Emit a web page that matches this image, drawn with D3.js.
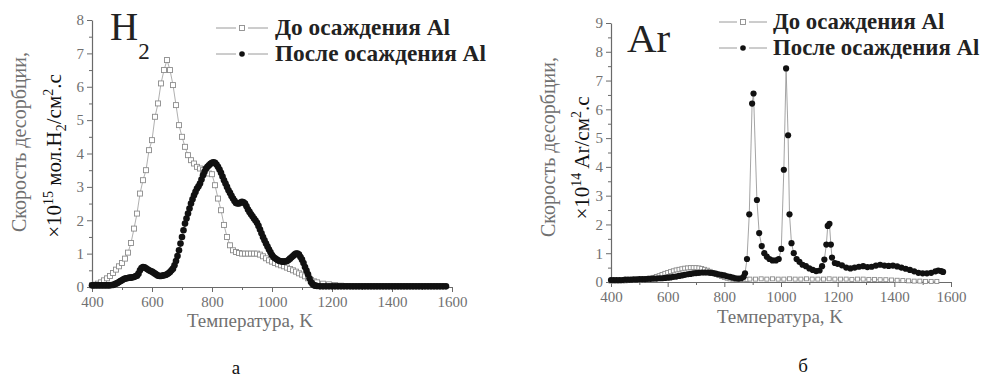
<!DOCTYPE html>
<html><head><meta charset="utf-8">
<script src="https://cdn.jsdelivr.net/npm/d3@7"></script>
<style>body{margin:0;background:#fff} svg{display:block} text{font-family:"Liberation Serif","DejaVu Serif",serif}</style>
</head><body>
<svg id="c" width="983" height="378"></svg>
<script>
// ---------- DATA ----------
const xTicks = [400, 600, 800, 1000, 1200, 1400, 1600];
const xMinorTicks = [500, 700, 900, 1100, 1300, 1500];
const h2YTicks = [0, 1, 2, 3, 4, 5, 6, 7, 8];
const h2YMinor = [0.5, 1.5, 2.5, 3.5, 4.5, 5.5, 6.5, 7.5];
const arYTicks = [0, 1, 2, 3, 4, 5, 6, 7, 8, 9];
const arYMinor = [0.5, 1.5, 2.5, 3.5, 4.5, 5.5, 6.5, 7.5, 8.5];
const legendLabels = ["До осаждения Al", "После осаждения Al"];

// H2 panel (а) — До осаждения Al
const h2TempBefore = [400,410,420,430,440,450,460,470,480,490,500,510,520,530,540,550,560,570,580,590,
  600,610,620,630,640,650,660,670,680,690,700,710,720,730,740,750,760,770,780,790,
  800,810,820,830,840,850,860,870,880,890,900,910,920,930,940,950,960,970,980,990,
  1000,1010,1020,1030,1040,1050,1060,1070,1080,1090,1100,1110,1120,1130,1140,1150,
  1170,1190,1210,1230,1250,1270,1290,1310,1330,1350,1370,1390,1410,1430,1450,1470,1490,1510,1530,1550,1570];
const h2Before = [0.05,0.07,0.1,0.14,0.2,0.26,0.33,0.42,0.52,0.62,
  0.72,0.85,1.03,1.32,1.75,2.2,2.8,3.2,3.5,4.1,
  4.4,5.1,5.5,6.1,6.5,6.8,6.5,6.05,5.45,4.85,
  4.5,4.2,3.95,3.8,3.7,3.6,3.55,3.5,3.45,3.4,
  3.38,3.05,2.65,2.3,1.86,1.5,1.25,1.1,1.05,1.02,
  1.0,1.0,1.0,1.0,1.0,1.0,0.97,0.92,0.86,0.8,
  0.76,0.72,0.68,0.65,0.62,0.58,0.54,0.5,0.46,0.41,
  0.37,0.32,0.26,0.21,0.17,0.14,
  0.1,0.08,0.06,0.04,0.03,0.02,0.02,0.02,0.02,0.02,0.02,0.02,0.02,0.02,0.02,0.02,0.02,0.02,0.02,0.02,0.02];

// H2 panel (а) — После осаждения Al
const h2TempAfter = [400,405,410,415,420,425,430,435,440,445,450,455,460,465,470,475,480,485,490,495,
  500,505,510,515,520,525,530,535,540,545,550,555,560,565,570,575,580,585,590,595,
  600,605,610,615,620,625,630,635,640,645,650,655,660,665,670,675,680,685,690,695,
  700,705,710,715,720,725,730,735,740,745,750,755,760,765,770,775,780,785,790,795,
  800,805,810,815,820,825,830,835,840,845,850,855,860,865,870,875,880,885,890,895,
  900,905,910,915,920,925,930,935,940,945,950,955,960,965,970,975,980,985,990,995,
  1000,1005,1010,1015,1020,1025,1030,1035,1040,1045,1050,1055,1060,1065,1070,1075,1080,1085,1090,1095,
  1100,1105,1110,1115,1120,1125,1130,1135,1140,1145,1150,
  1160,1170,1180,1190,1200,1210,1220,1230,1240,1250,1260,1270,1280,1290,1300,1310,1320,1330,1340,1350,
  1360,1370,1380,1390,1400,1410,1420,1430,1440,1450,1460,1470,1480,1490,1500,1510,1520,1530,1540,1550,
  1560,1570,1580];
const h2After = [0.05,0.05,0.05,0.05,0.05,0.05,0.05,0.05,0.05,0.05,0.05,0.05,0.05,0.06,0.06,0.08,0.1,0.12,0.15,0.18,
  0.2,0.23,0.25,0.26,0.27,0.28,0.28,0.29,0.3,0.32,0.34,0.4,0.5,0.57,0.6,0.59,0.56,0.53,0.5,0.48,
  0.46,0.43,0.4,0.37,0.34,0.33,0.33,0.34,0.35,0.36,0.38,0.41,0.45,0.5,0.55,0.65,0.78,0.93,1.1,1.3,
  1.5,1.7,1.9,2.05,2.2,2.35,2.5,2.63,2.75,2.85,2.95,3.02,3.1,3.22,3.35,3.45,3.55,3.6,3.65,3.69,
  3.72,3.74,3.72,3.67,3.6,3.52,3.42,3.31,3.2,3.1,3.0,2.9,2.82,2.73,2.65,2.58,2.52,2.5,2.5,2.53,
  2.55,2.54,2.5,2.42,2.32,2.25,2.18,2.12,2.05,1.99,1.92,1.83,1.72,1.61,1.5,1.4,1.3,1.21,1.12,1.04,
  0.96,0.9,0.86,0.83,0.8,0.78,0.77,0.76,0.76,0.77,0.78,0.81,0.85,0.89,0.93,0.97,1.0,1.0,0.97,0.9,
  0.82,0.72,0.6,0.49,0.38,0.26,0.15,0.09,0.05,0.04,0.03,
  0.02,0.02,0.02,0.02,0.02,0.02,0.02,0.02,0.02,0.02,0.02,0.02,0.02,0.02,0.02,0.02,0.02,0.02,0.02,0.02,
  0.02,0.02,0.02,0.02,0.02,0.02,0.02,0.02,0.02,0.02,0.02,0.02,0.02,0.02,0.02,0.02,0.02,0.02,0.02,0.02,
  0.02,0.02,0.02];

// Ar panel (б)
const arTempBefore = [400,410,420,430,440,450,460,470,480,490,500,510,520,530,540,550,560,570,580,590,
  600,610,620,630,640,650,660,670,680,690,700,710,720,730,740,750,760,770,780,790,
  800,810,820,830,840,850,860,870,880,890,
  910,930,950,970,990,1010,1030,1050,1070,1090,1110,1130,1150,1170,1190,1210,1230,1250,1270,1290,
  1310,1330,1350,1370,1390,1410,1430,1450,1470,1490,1510,1530,1550];
const arBefore = [0.03,0.03,0.03,0.03,0.04,0.04,0.05,0.05,0.06,0.07,
  0.08,0.09,0.1,0.12,0.14,0.16,0.19,0.22,0.26,0.3,
  0.33,0.36,0.39,0.42,0.44,0.46,0.48,0.49,0.5,0.5,
  0.5,0.49,0.47,0.44,0.41,0.37,0.32,0.27,0.23,0.19,
  0.16,0.13,0.11,0.1,0.09,0.08,0.08,0.08,0.09,0.1,
  0.1,0.11,0.1,0.11,0.1,0.1,0.11,0.1,0.1,0.11,0.1,0.1,0.1,0.11,0.1,0.1,0.1,0.09,0.1,0.1,
  0.09,0.09,0.08,0.08,0.07,0.06,0.05,0.04,0.03,0.03,0.02,0.02,0.02];
const arTempAfter = [400,410,420,430,440,450,460,470,480,490,500,510,520,530,540,550,560,570,580,590,
  600,610,620,630,640,650,660,670,680,690,700,710,720,730,740,750,760,770,780,790,
  800,810,820,830,840,850,860,868,873,880,888,898,903,915,923,932,941,950,959,970,982,992,
  1001,1010,1018,1025,1030,1037,1045,1055,1065,1076,1088,1100,1112,1124,1136,1145,1153,1160,1165,1171,1176,1180,
  1190,1200,1215,1230,1245,1260,1275,1290,1305,1320,1335,1350,1365,1380,1395,1410,1425,1440,1455,1470,1485,
  1500,1515,1530,1545,1555,1565,1572];
const arAfter = [0.07,0.07,0.07,0.07,0.07,0.08,0.08,0.08,0.09,0.09,
  0.1,0.1,0.1,0.11,0.11,0.12,0.12,0.13,0.13,0.14,
  0.15,0.16,0.18,0.19,0.21,0.23,0.25,0.27,0.28,0.3,
  0.31,0.32,0.33,0.33,0.33,0.32,0.31,0.29,0.27,0.25,
  0.23,0.2,0.18,0.15,0.13,0.12,0.13,0.18,0.3,0.8,2.35,6.2,6.55,2.85,1.7,1.25,1.0,0.88,0.8,0.75,0.75,0.8,
  1.15,3.9,7.42,5.1,2.35,1.35,1.0,0.8,0.7,0.6,0.55,0.47,0.42,0.38,0.4,0.55,0.78,1.3,1.95,2.02,1.3,0.85,
  0.66,0.63,0.58,0.5,0.47,0.5,0.53,0.55,0.52,0.53,0.57,0.6,0.57,0.56,0.57,0.54,0.5,0.46,0.42,0.37,0.32,
  0.3,0.3,0.32,0.37,0.4,0.38,0.35];

// ---------- DRAW ----------
const svg = d3.select("#c");
const SERIF = '"Liberation Serif","DejaVu Serif",serif';
const AX = "#6a6a6a", TXT = "#707070", LINE = "#9a9a9a";

function panel(o) {
  const g = svg.append("g");
  const x = d3.scaleLinear().domain([400, 1600]).range(o.xr);
  const y = d3.scaleLinear().domain(o.yd).range(o.yr);

  g.append("g").attr("transform", `translate(0,${o.yr[0]})`)
    .call(d3.axisBottom(x).tickValues(xTicks).tickSize(5).tickSizeOuter(0).tickPadding(4).tickFormat(d3.format("d")));
  g.append("g").attr("transform", `translate(0,${o.yr[0]})`)
    .call(d3.axisBottom(x).tickValues(xMinorTicks).tickSize(3).tickFormat(""))
    .select(".domain").remove();
  g.append("g").attr("transform", `translate(${o.xr[0]},0)`)
    .call(d3.axisLeft(y).tickValues(o.yTicks).tickSize(5).tickSizeOuter(0).tickPadding(3).tickFormat(d3.format("d")));
  g.append("g").attr("transform", `translate(${o.xr[0]},0)`)
    .call(d3.axisLeft(y).tickValues(o.yMinor).tickSize(3).tickFormat(""))
    .select(".domain").remove();
  g.selectAll("g").attr("font-family", null);
  g.selectAll(".domain").attr("stroke", AX).attr("stroke-width", 1.2);
  g.selectAll(".tick line").attr("stroke", AX);
  g.selectAll(".tick text").attr("fill", TXT).style("font-family", SERIF).attr("font-size", 15);

  const line = d3.line().x(d => x(d[0])).y(d => y(d[1]));
  const before = o.tb.map((t, i) => [t, o.vb[i]]);
  const after = o.ta.map((t, i) => [t, o.va[i]]);

  g.append("path").datum(before).attr("d", line).attr("fill", "none").attr("stroke", LINE).attr("stroke-width", 0.8);
  g.selectAll(".sq").data(before).join("rect").attr("class", "sq")
    .attr("x", d => x(d[0]) - o.sq / 2).attr("y", d => y(d[1]) - o.sq / 2)
    .attr("width", o.sq).attr("height", o.sq)
    .attr("fill", "#fff").attr("stroke", "#8c8c8c").attr("stroke-width", 0.9);

  g.append("path").datum(after).attr("d", line).attr("fill", "none").attr("stroke", LINE).attr("stroke-width", 0.9);
  g.selectAll(".ci").data(after).join("circle").attr("class", "ci")
    .attr("cx", d => x(d[0])).attr("cy", d => y(d[1])).attr("r", o.r).attr("fill", "#111");

  legendLabels.forEach((lab, i) => {
    const ly = o.leg.y[i];
    g.append("line").attr("x1", o.leg.x1).attr("x2", o.leg.x2).attr("y1", ly).attr("y2", ly)
      .attr("stroke", LINE).attr("stroke-width", 1);
    const mx = (o.leg.x1 + o.leg.x2) / 2;
    g.append("rect").attr("x", mx - 6).attr("y", ly - 3).attr("width", 12).attr("height", 6).attr("fill", "#fff");
    if (i === 0) {
      g.append("rect").attr("x", mx - 2.5).attr("y", ly - 2.5).attr("width", 5).attr("height", 5)
        .attr("fill", "#fff").attr("stroke", "#8c8c8c").attr("stroke-width", 0.9);
    } else {
      g.append("circle").attr("cx", mx).attr("cy", ly).attr("r", 2.8).attr("fill", "#111");
    }
    g.append("text").attr("x", o.leg.tx).attr("y", ly + o.leg.fs * 0.32)
      .style("font-family", SERIF).attr("font-weight", "bold").attr("font-size", o.leg.fs)
      .attr("fill", "#222").text(lab);
  });

  g.append("text").attr("x", o.xl[0]).attr("y", o.xl[1]).attr("text-anchor", "middle")
    .style("font-family", SERIF).attr("font-size", 19).attr("fill", TXT).text("Температура, K");
  g.append("text").attr("x", o.letter[0]).attr("y", o.letter[1]).attr("text-anchor", "middle")
    .style("font-family", SERIF).attr("font-size", 19).attr("fill", "#111").text(o.letter[2]);
  g.append("text").attr("transform", `translate(${o.yl1[0]},${o.yl1[1]}) rotate(-90)`)
    .attr("text-anchor", "middle").style("font-family", SERIF).attr("font-size", 20)
    .attr("fill", TXT).text("Скорость десорбции,");
  return g;
}

const gA = panel({
  xr: [92, 452], yd: [0, 8], yr: [287, 20], yTicks: h2YTicks, yMinor: h2YMinor,
  tb: h2TempBefore, vb: h2Before, ta: h2TempAfter, va: h2After, sq: 5, r: 3.3,
  leg: { x1: 216, x2: 268, tx: 275, y: [28, 54], fs: 23.3 },
  xl: [250, 327], letter: [236, 374, "а"], yl1: [26, 142]
});
const gB = panel({
  xr: [611, 951], yd: [0, 9], yr: [282, 23], yTicks: arYTicks, yMinor: arYMinor,
  tb: arTempBefore, vb: arBefore, ta: arTempAfter, va: arAfter, sq: 4, r: 3.1,
  leg: { x1: 719, x2: 767, tx: 773, y: [22, 48], fs: 22.8 },
  xl: [780, 323], letter: [803, 372, "б"], yl1: [555, 147]
});

const h = gA.append("text").attr("x", 110).attr("y", 40).style("font-family", SERIF).attr("font-size", 39).attr("fill", "#222");
h.append("tspan").text("H");
h.append("tspan").attr("dy", 19).attr("font-size", 23).text("2");
gB.append("text").attr("x", 627).attr("y", 52).style("font-family", SERIF).attr("font-size", 41).attr("fill", "#222").text("Ar");

function ylab2(g, cx, cy, parts) {
  const t = g.append("text").attr("transform", `translate(${cx},${cy}) rotate(-90)`)
    .attr("text-anchor", "middle").style("font-family", SERIF).attr("font-size", 21).attr("fill", "#111");
  parts.forEach(p => {
    const s = t.append("tspan").text(p[0]);
    if (p[1] === "sup") s.attr("font-size", 14).attr("dy", -8);
    else if (p[1] === "sub") s.attr("font-size", 14).attr("dy", 5);
    else if (p[1] === "back-up") s.attr("dy", 8);
    else if (p[1] === "back-down") s.attr("dy", -5);
  });
}
ylab2(gA, 61, 156, [["×10"], ["15", "sup"], [" мол.H", "back-up"], ["2", "sub"], ["/см", "back-down"], ["2", "sup"], [".c", "back-up"]]);
ylab2(gB, 589, 158, [["×10"], ["14", "sup"], [" Ar/см", "back-up"], ["2", "sup"], [".c", "back-up"]]);
</script>
</body></html>
